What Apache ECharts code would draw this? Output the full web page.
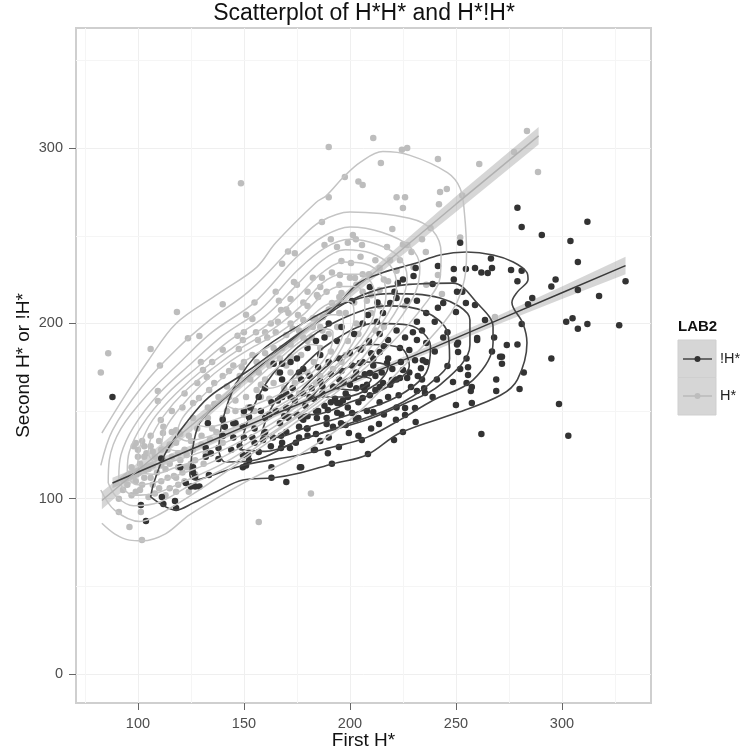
<!DOCTYPE html>
<html><head><meta charset="utf-8">
<style>html,body{margin:0;padding:0;background:#fff}#c{width:741px;height:754px}#c canvas{filter:blur(.45px)}</style>
<script src="https://cdn.jsdelivr.net/npm/echarts@6/dist/echarts.min.js"></script>
</head><body><div id="c"></div>
<script>
const chartTitle='Scatterplot of H*H* and H*!H*', xName='First H*', yName='Second H* or !H*';
const legendTitle='LAB2', darkName='!H*', lightName='H*';
const xTicks=[100,150,200,250,300], yTicks=[0,100,200,300];
const xMinor=[75,125,175,225,275,325], yMinor=[50,150,250,350];

const darkPoints=[[279,266],[281,255],[290.5,250.5],[312,258],[304,247],[307.5,235],[297,225],[295,221],[307.5,219],[330,224],[317.5,215.6],[286,214.5],[284,211],[305,203],[302,201],[312,199.6],[307.5,197],[327,199],[281,199.6],[279,188],[274,187.7],[295,180],[271.7,181],[271.7,177],[282,172],[280,162.6],[298.6,154],[303,136],[276,230.5],[281,230],[279,224],[262,137],[88,158],
[252,246],[266.5,237],[259,231.6],[254.7,231],[249,231],[241.5,232.7],[231,231.6],[230,227],[225,225],[222.6,223],[239,222.5],[249,225],[262,229],[265,228.7],[267,231.6],[250.5,218],[253,218],[254.7,211.6],[259,210.5],[244,211.6],[241.5,209],[231.6,213],[227,213],[221,218],[213,212],[219,211.6],[222,214.5],[201,212.8],[209.4,220.8],[250,206.5],[236,206],[240,201],[231.6,201],[263.7,202],[268,192],[208.5,204.8],[215.6,206],[212.7,201],[222,196],[229.7,195],[246,195],[244,192],[260,191.7],[251,189],[251,183.7],[267,184],[270.8,181],
[260,190.5],[250.5,188],[255,180],[255.7,175],[255.7,170.6],[252,174],[246,175.7],[234,168],[241,168],[248.6,166.6],[255,166],[257.5,163.7],[257,161.4],[269,168],[269,161.4],[257.5,154.6],[250,153.5],[239,158],[235.4,160.3],[235,163],[231.6,161.4],[228.8,163.7],[223,159],[230.7,151.7],[226,151.7],[226,147.7],[231,143.8],[221.7,145],[213.7,142.6],[211,149.5],[202.8,145.5],[201,148.9],[195.8,143],[199.5,137.5],[204,136],[205.6,133.5],[220.8,133.5],[225,138],[208.5,125.5],[194.8,129.5],[189.6,126],[183.5,128],[191.5,120],[177,118],[179.7,140],[189,142.6],[184.4,146],[178,145],[195.3,154.6],[189.6,150.6],
[214,163.7],[212,162],[215.6,166],[209.4,159],[206,157.4],[219.8,167.7],[223.6,168.8],[227,168.8],[225,173.4],[233.5,174.5],[234.4,179],[230.7,179],[223.6,186],[228,184.8],[236,188.8],[231.6,190.5],[214,183.7],[218,190.5],[196.7,156],[194,154.6],[200,165],[206,163.7],[217.5,177.4],[209.4,171.7],[204.7,177.4],
[133,143],[140,145],[141,141],[146,143],[132,129],[132,124],[134.4,126],[138,129],[138,122.6],[120,118],[126,118],[126,115],[127,112.4],[133.5,113.5],[122.6,109],[125,107],[127,107],[129,107],[111,123],[111.3,101],[112,97],[101.4,96.4],[103.8,87.3],[117.5,98.7],[118,94.7],[149.5,125],[152,125],[152.4,122],[151,119],[149.5,118],[163,118],[163,112],[170,109.5],[176.4,118],[164,177],[168,177],[162.7,130],[167.5,129],[171.7,129],[174.5,132],[183,127.8],[180,140],[163.7,135],[167.5,136],[153,152],[157,158],[152.4,146.6],[154,135],[159,133.5],[157,126.6],[145,143],[149.5,141],
[158,150],[160,146],[163,155],[165,150],[167,143],[168,158],[170,152],[171,146],[173,163],[174,156],[175,148],[176,141],[177,168],[178,160],[179,153],[180,147],[181,170],[182,163],[183,157],[184,150],[185,175],[186,167],[187,160],[188,153],[189,146],[190,178],[191,171],[192,164],[193,157],[194,149],[195,180],[196,173],[197,166],[198,160],[199,152],[200,183],[201,176],[202,169],[203,163],[204,155],[205,185],[206,178],[207,171],[208,165],[209,190],[210,183],[211,176],[212,170],[214,194],[216,187],[218,180],[220,174],[222,168],[155,140],[160,138],[170,138],[180,136],[190,135],[150,135],[145,135],[172,178],[180,186],[188,192],[196,198],[190,200],[184,190],[176,172],[168,168],[160,163],
[162,148],[166,156],[169,147],[172,158],[177,146],[181,158],[185,150],[187,164],[191,155],[195,168],[199,158],[203,172],[207,162],[211,180],[215,172],[219,165],[224,178],[228,172],[232,170],[236,178],[240,184],[226,192],[234,196],[214,155],[218,158],[222,152],[208,150],[204,146],[196,148],[192,141],[184,137],[176,135],[168,132],[186,133],[198,142],[210,140],[216,148],[170,160],[178,174],[186,182],[194,190],[202,194],[206,200],[175,180],[167,172],[150,150],[144,128],[155,132],[148,130],[140,136]];

const lightPoints=[[148.6,280],[170.8,241],[174,240],[168,234],[173.6,223.6],[182.5,226],[140,211],[118.4,206.5],[123.6,191.6],[129,192.8],[106,185.4],[86,183],[166.5,213],[172,214],[178,212],[151,205],[154,202.5],[147,193],[149.5,190.5],[155.7,195],[156.6,190.5],[147.6,185.4],[162.7,200],[166,201],[167.5,207.6],[171,206],[175.5,204.8],[182.5,203],[173,197],[170,193.4],[161,192],[182.5,198],
[211,305.8],[190,300.6],[224.5,299],[227,300],[241.5,293.8],[261,291],[214.6,291.5],[197.6,283.5],[204,281],[206,279],[283.5,309.8],[277.4,297.8],[288.7,286.4],[242.5,275],[245.7,276.7],[253,273],[190,272],[222,272],[226,272],[242,268],[225,265.8],[186.8,257.8],[220,253.8],[238,254.4],[234,248],[252,249],[201.4,250.4],[202.8,248],[191,248],[188,244.7],[193.9,243.6],[199,246],[205.7,244.7],[217.5,243.6],[227,244.7],[229,240.7],[235.8,240.7],[196,235.6],[200.5,234.5],[218.9,236],[223.6,236],[214,231.6],[191.5,229],[186.8,226],[195.3,227.6],[202.4,225.9],[186,220.8],[196,217.3],[203,222],[214,219],[241.5,227.6],[243.4,216.8],[184.4,216.2],[191.5,211.6],[183.5,203],[187.3,203.6],[268.4,203.6],
[82.5,172],[110.4,176],[109.4,161.4],[109.4,155.7],[129.7,178],[130.7,173.4],[132.5,169.4],[143,172.8],[149,175],[133.6,162],[121,152],[126,154.6],[128.8,157.4],[110.8,144.9],[118,139],[111.8,137.5],[99,131.8],
[98,130],[102,133],[106,130],[110,133],[114,128],[118,132],[122,128],[100,124],[104,126],[108,124],[112,122],[116,124],[120,122],[97,118],[101,120],[105,117],[109,115],[113,117],[117,113],[121,115],[125,120],[95,112],[99,110],[103,112],[107,108],[111,110],[115,106],[119,108],[93,105],[97,102],[101,105],[105,101],[91,92.4],[101.4,92.4],[96,83.9],[101.9,76.4],[157,86.7],[181.6,103],
[128,140],[133,146],[137,138],[142,150],[146,143],[151,158],[155,150],[158,165],[162,157],[166,172],[169,163],[172,181],[176,170],[180,190],[183,178],[187,196],[191,184],[195,206],[199,190],[203,200],[208,213],[212,196],[216,225],[205,238],[209,228],[178,192],[170,176],[160,168],[150,148],[140,132],[132,126],[125,133],[180,210],[176,196],[168,186],[160,183],[154,182],[150,178],[145,176],[140,170],[135,178],[128,166],[122,160],[116,150],[126,146],[136,166],[146,156],[156,162],[166,150],[176,160],[186,170],[196,178],[206,186],[216,198],[226,210],[236,222],[230,232],[225,245],[195,215],[185,215],[175,222],[165,218],[155,212],[170,208],[160,195],[150,195],[140,185],[165,195],
[100,128],[103,130],[107,127],[111,128],[115,131],[119,126],[123,125],[126,128],[130,131],[134,134],[124,136],[120,137],[116,138],[112,141],[106,136],[103,124],[99,115],[103,116],[107,119],[111,119],[115,120],[119,118],[123,118],[127,122],[131,120],[102,108],[106,112],[110,106],[114,112],[118,112],[122,110],[127,114],[95,108],[91,100],[99,104],[108,103],[113,102],[118,104],[124,104],
[133,152],[138,158],[143,158],[147,165],[153,168],[157,172],[162,176],[167,180],[172,188],[177,182],[182,192],[186,186],[190,194],[194,198],[198,206],[202,212],[206,218],[210,206],[214,210],[218,224],[222,230],[190,208],[186,198],[178,202],[172,172],[164,166],[158,158],[152,152],[146,150],[140,146],[135,140],[130,136],[168,158],[174,166],[180,172],[184,166],[192,174],[198,182],[204,194],[210,216],[200,226],[206,228],[212,236],[195,222],[189,218],[180,218],[172,200],[164,186],[156,178],[148,170],[142,164],[136,154]];

const lightContours=[
[[83,137.5],[94,159],[105,179],[118,200],[138,217],[156,232],[165,246],[184,269],[189,273],[197,283.5],[205,292],[215.5,298],[228,296],[246,286],[252,277],[254,263],[255,240],[254,225],[250.5,212],[244,200],[223.6,173.4],[200,145],[176,125],[153,111],[124.5,91],[113,80],[102,76],[96,76.4],[89,80],[83,86]],
[[82.5,119],[88,139],[102,164],[118,185],[134,202],[153,219],[176,247.6],[186,258],[200,263.5],[228,260],[239,253],[243,240],[242.5,226],[236,212],[219,188],[195,162],[176,145],[153,125],[129,105],[110,91],[101,87],[89,93.5],[82.5,105]],
[[86,109],[86.5,122],[92,140],[105,160],[120,178],[135,195],[155,212],[175,238],[188,250],[200,255],[215,252],[228,244],[233,232],[231,218],[222,200],[205,175],[185,155],[165,138],[145,120],[125,108],[110,98],[98,96],[90,101],[86,109]],
[[91,112],[92,125],[98,141],[110,160],[125,177],[140,193],[158,208],[175,230],[188,243],[200,248],[213,245],[223,238],[227,226],[224,212],[215,195],[200,172],[180,152],[160,135],[140,120],[122,110],[108,103],[98,102],[93,106],[91,112]],
[[95,116],[96,127],[102,142],[114,160],[128,175],[143,190],[160,204],[175,222],[187,236],[198,242],[210,240],[219,233],[222,222],[219,208],[210,192],[195,170],[175,150],[155,134],[137,122],[120,114],[107,109],[100,108],[96,111],[95,116]],
[[100,121],[101,130],[107,145],[118,160],[132,175],[147,188],[162,200],[176,216],[187,229],[197,235],[207,234],[215,227],[217,216],[214,203],[205,187],[190,168],[172,150],[152,135],[135,125],[118,118],[107,114],[102,115],[100,121]],
[[105,125],[106,134],[112,147],[122,161],[136,175],[150,187],[164,197],[177,210],[187,223],[196,228],[205,228],[211,221],[212,210],[209,198],[200,183],[186,166],[168,150],[150,137],[133,128],[118,122],[109,120],[105,125]],
[[111,130],[113,140],[120,152],[130,165],[142,177],[155,187],[167,195],[178,205],[187,216],[195,221],[203,221],[207,214],[207,204],[203,192],[195,178],[182,164],[165,150],[148,139],[132,131],[120,127],[111,130]],
[[118,136],[121,146],[130,158],[142,171],[155,182],[168,191],[180,202],[188,210],[195,213],[201,212],[202,203],[198,190],[190,175],[178,162],[162,150],[146,141],[132,135],[123,133],[118,136]],
[[128,142],[135,152],[145,164],[158,177],[170,187],[181,197],[190,205],[196,205],[197,196],[193,184],[185,172],[172,160],[158,151],[143,144],[133,141],[128,142]],
[[142,153],[152,164],[165,178],[177,190],[187,197],[192,195],[191,186],[184,174],[172,163],[158,155],[147,151],[142,153]],
[[158,166],[170,179],[182,188],[186,186],[183,176],[173,168],[162,163],[158,166]]];

const darkContours=[
[[106,101],[118,93.5],[126,97.5],[137,104],[149.5,110.7],[164,112],[176.4,114.7],[192,120],[208,125],[223.6,137.5],[250.5,149],[271,159],[279,168],[283.5,189],[281.6,200],[276.4,212],[279,218],[284,225],[283.5,229],[277,235],[267.5,239],[255,240.7],[242.5,239],[230,234],[215.6,229],[204,223],[195,211.6],[186,202],[174.5,193],[152,173],[133.5,158],[122.6,143],[113,126],[107.5,109],[106,101]],
[[125,120],[129,143],[141.5,158],[157,175],[171,189],[186,202],[200,213],[219,221],[248.6,223],[260,211.6],[267.5,198],[267.5,189],[258,167.7],[239,156],[223.6,145],[208,135],[192,129.5],[176,125],[149.5,119],[131.6,112],[127,110.7],[124.5,113.5],[125,120]],
[[138,128],[140,145],[146,165],[157.5,183.7],[176.4,199],[195,210.5],[219,217],[242.5,214.5],[256.6,202],[256.6,187.7],[242.5,165],[223.6,153],[208,145],[176.4,133.5],[153,121.5],[141,121],[138,128]],
[[148,128],[152,145],[160,165],[175,186],[195,202],[218,210],[235,207],[246,195],[247,180],[237,165],[220,152],[200,143],[178,134],[160,127],[148,128]],
[[158,136],[163,152],[175,172],[192,190],[212,200],[228,199],[238,187],[236,172],[222,158],[200,148],[178,140],[165,135],[158,136]],
[[170,148],[178,163],[192,178],[210,188],[224,186],[228,176],[218,164],[200,155],[183,148],[170,148]],
[[182,158],[192,170],[208,178],[218,175],[212,165],[197,158],[182,158]],
[[192,163],[203,170],[210,168],[202,162],[192,163]]];

const lightFitX=[83,120,150,180,210,250,289];
const lightFit=[99,136.5,167,197,227.5,268,307];
const lightLow=[94,133,164.5,194.5,224.5,263.5,302];
const lightHigh=[104,140,169.5,199.5,230.5,272.5,312];
const darkFitX=[88,120,150,180,210,240,270,300,330];
const darkFit=[109,125.5,141,156,171.5,186.5,202,217.5,233];
const darkLow=[106,123,139,154.3,169.8,184.5,199.5,214,228];
const darkHigh=[112,128,143,157.7,173.2,188.5,204.5,221,238];

const DARK='#333333', LIGHT='#bdbdbd';
const font='"Liberation Sans",Arial,sans-serif';
const pair=(xs,ys)=>xs.map((x,i)=>[x,ys[i]]);

function scatter(name,data,color){return{name,type:'scatter',data,symbolSize:6.5,itemStyle:{color,opacity:1},silent:true};}
function contour(list,color,w){return list.map(d=>({type:'line',data:d,smooth:0.35,symbol:'none',lineStyle:{color,width:w},silent:true}));}
function band(xs,lo,hi){
  return{type:'custom',data:[[xs[0],lo[0]]],silent:true,
    renderItem:(p,api)=>({type:'polygon',shape:{points:pair(xs,lo).concat(pair(xs,hi).reverse()).map(c=>api.coord(c))},style:{fill:'#999999',opacity:0.4}})};
}
function fit(xs,ys,color,w){return{type:'line',data:pair(xs,ys),symbol:'none',lineStyle:{color,width:w},silent:true};}
function gridLines(){return{type:'line',data:[],silent:true,z:1,markLine:{silent:true,z:1,symbol:'none',animation:false,label:{show:false},lineStyle:{color:'#f5f5f5',width:1,type:'solid'},
  data:xMinor.map(v=>({xAxis:v})).concat(yMinor.map(v=>({yAxis:v})))}};}

const axisCommon={type:'value',axisLine:{show:false,onZero:false},nameMoveOverlap:false,
  axisLabel:{color:'#4d4d4d',fontSize:14.5,fontFamily:font,margin:13},
  splitLine:{show:true,lineStyle:{color:'#efefef',width:1}},
  nameLocation:'middle',nameTextStyle:{color:'#111',fontSize:19,fontFamily:font}};

const lx=678,lw=38,ly=340,lh=37.5;
const option={animation:false,backgroundColor:'#fff',
 title:{text:chartTitle,left:359,top:-3,textAlign:'center',textStyle:{fontFamily:font,fontSize:23,fontWeight:'normal',color:'#111'}},
 grid:{left:76,top:28,right:90,bottom:51,outerBoundsMode:'none',show:true,borderColor:'#cfcfcf',borderWidth:2,backgroundColor:'#fff',z:0},
 xAxis:Object.assign({},axisCommon,{min:70.8,max:342,name:xName,nameGap:28,
   axisTick:{show:true,length:7,lineStyle:{color:'#666'},customValues:xTicks},
   axisLabel:Object.assign({},axisCommon.axisLabel,{customValues:xTicks})}),
 yAxis:Object.assign({},axisCommon,{min:-16.5,max:368.5,name:yName,nameGap:43,
   axisTick:{show:true,length:7,lineStyle:{color:'#666'},customValues:yTicks},
   axisLabel:Object.assign({},axisCommon.axisLabel,{customValues:yTicks})}),
 series:[gridLines(),scatter(lightName,lightPoints,LIGHT),scatter(darkName,darkPoints,DARK)]
   .concat(contour(darkContours,'#444444',1.6),contour(lightContours,'#c4c4c4',1.5),
   [band(darkFitX,darkLow,darkHigh),fit(darkFitX,darkFit,'#3a3a3a',1.5),band(lightFitX,lightLow,lightHigh),fit(lightFitX,lightFit,'#b0b0b0',1.5)]),
 graphic:[
  {type:'text',left:lx,top:319,style:{text:legendTitle,font:'bold 15px '+font,fill:'#111'}},
  {type:'rect',shape:{x:lx,y:ly,width:lw,height:lh},style:{fill:'#d6d6d6',stroke:'#cfcfcf',lineWidth:1}},
  {type:'rect',shape:{x:lx,y:ly+lh,width:lw,height:lh},style:{fill:'#d6d6d6',stroke:'#cfcfcf',lineWidth:1}},
  {type:'line',shape:{x1:lx+5,y1:ly+19,x2:lx+34,y2:ly+19},style:{stroke:'#3a3a3a',lineWidth:1.4}},
  {type:'circle',shape:{cx:lx+19.5,cy:ly+19,r:3},style:{fill:DARK}},
  {type:'line',shape:{x1:lx+5,y1:ly+56,x2:lx+34,y2:ly+56},style:{stroke:'#b8b8b8',lineWidth:1.4}},
  {type:'circle',shape:{cx:lx+19.5,cy:ly+56,r:3},style:{fill:LIGHT}},
  {type:'text',left:lx+42,top:ly+11,style:{text:darkName,font:'14.5px '+font,fill:'#222'}},
  {type:'text',left:lx+42,top:ly+48,style:{text:lightName,font:'14.5px '+font,fill:'#222'}}
 ]};
echarts.init(document.getElementById('c'),null,{renderer:'canvas'}).setOption(option);
</script></body></html>
